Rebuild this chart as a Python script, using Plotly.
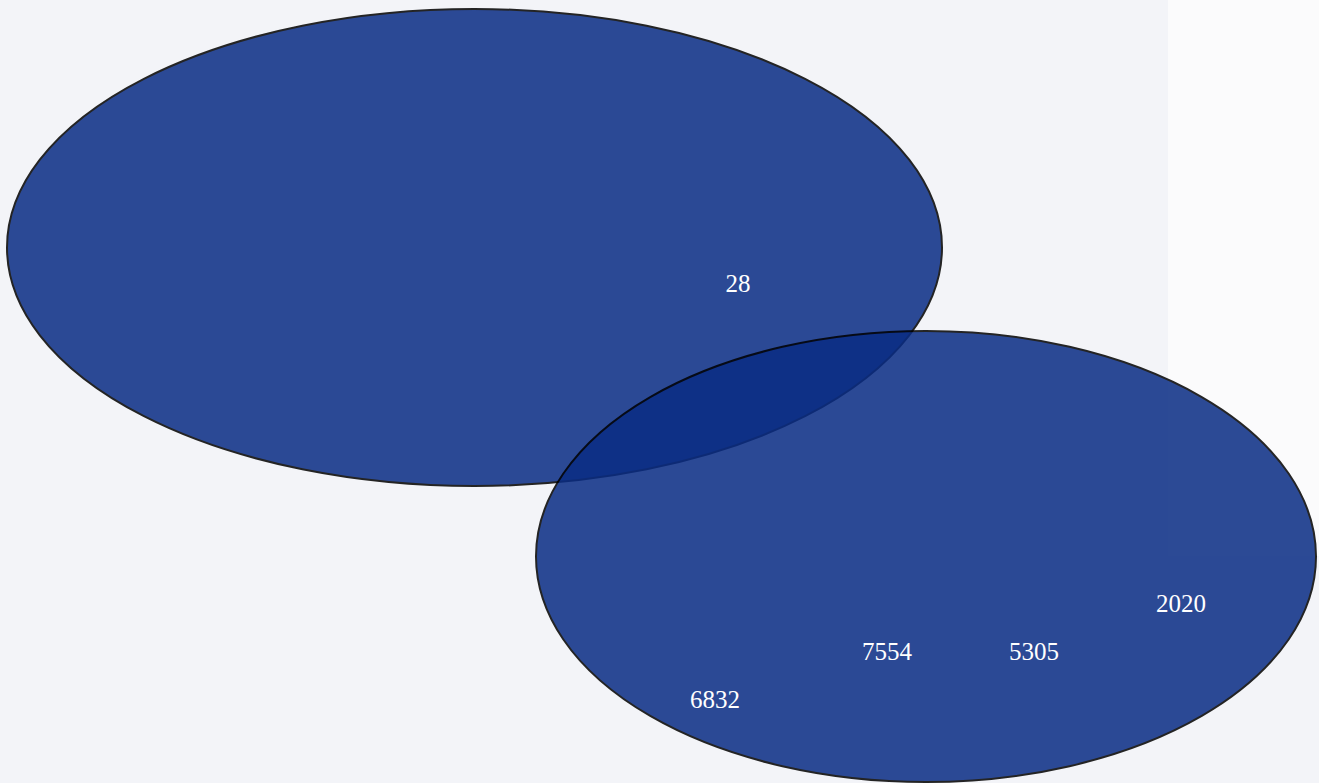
import plotly.graph_objects as go

# Label data (value text and positions in data units)
labels = ["28", "7554", "5305", "2020", "6832"]
label_x = [7.38, 8.87, 10.34, 11.81, 7.15]
label_y = [4.97, 1.29, 1.29, 1.77, 0.81]

# Ellipse extents in data units (x0, x1, y0, y1)
ellipse_x0 = [0.07, 5.36]
ellipse_x1 = [9.42, 13.16]
ellipse_y0 = [2.97, 0.01]
ellipse_y1 = [7.74, 4.52]

X_RANGE = [0, 13.19]
Y_RANGE = [0, 7.83]

fig = go.Figure()

fig.add_trace(go.Scatter(
    x=label_x, y=label_y, text=labels, mode="text",
    textfont=dict(family="Liberation Serif", size=25, color="#ffffff"),
    cliponaxis=False, hoverinfo="skip", showlegend=False,
))

# light side panel at top-right (drawn beneath the ellipses)
fig.add_shape(type="rect", xref="paper", yref="paper",
              x0=1168 / 1319, x1=1, y0=(783 - 556) / 783, y1=1,
              fillcolor="#fbfbfc", line=dict(width=0), layer="below")

for x0, x1, y0, y1 in zip(ellipse_x0, ellipse_x1, ellipse_y0, ellipse_y1):
    fig.add_shape(
        type="circle", xref="x", yref="y",
        x0=x0, x1=x1, y0=y0, y1=y1,
        fillcolor="#092c84", opacity=0.85,
        line=dict(color="#000000", width=2),
        layer="below",
    )

fig.update_layout(
    width=1319, height=783,
    margin=dict(l=0, r=0, t=0, b=0),
    paper_bgcolor="#f3f4f8",
    plot_bgcolor="#f3f4f8",
    xaxis=dict(range=X_RANGE, domain=[0, 1], visible=False,
               showgrid=False, zeroline=False),
    yaxis=dict(range=Y_RANGE, domain=[0, 1], visible=False,
               showgrid=False, zeroline=False),
    showlegend=False,
    hovermode=False,
)

fig.write_html(
    "out.html",
    config={"displayModeBar": False},
    post_script="document.body.style.margin='0';document.body.style.overflow='hidden';",
)
